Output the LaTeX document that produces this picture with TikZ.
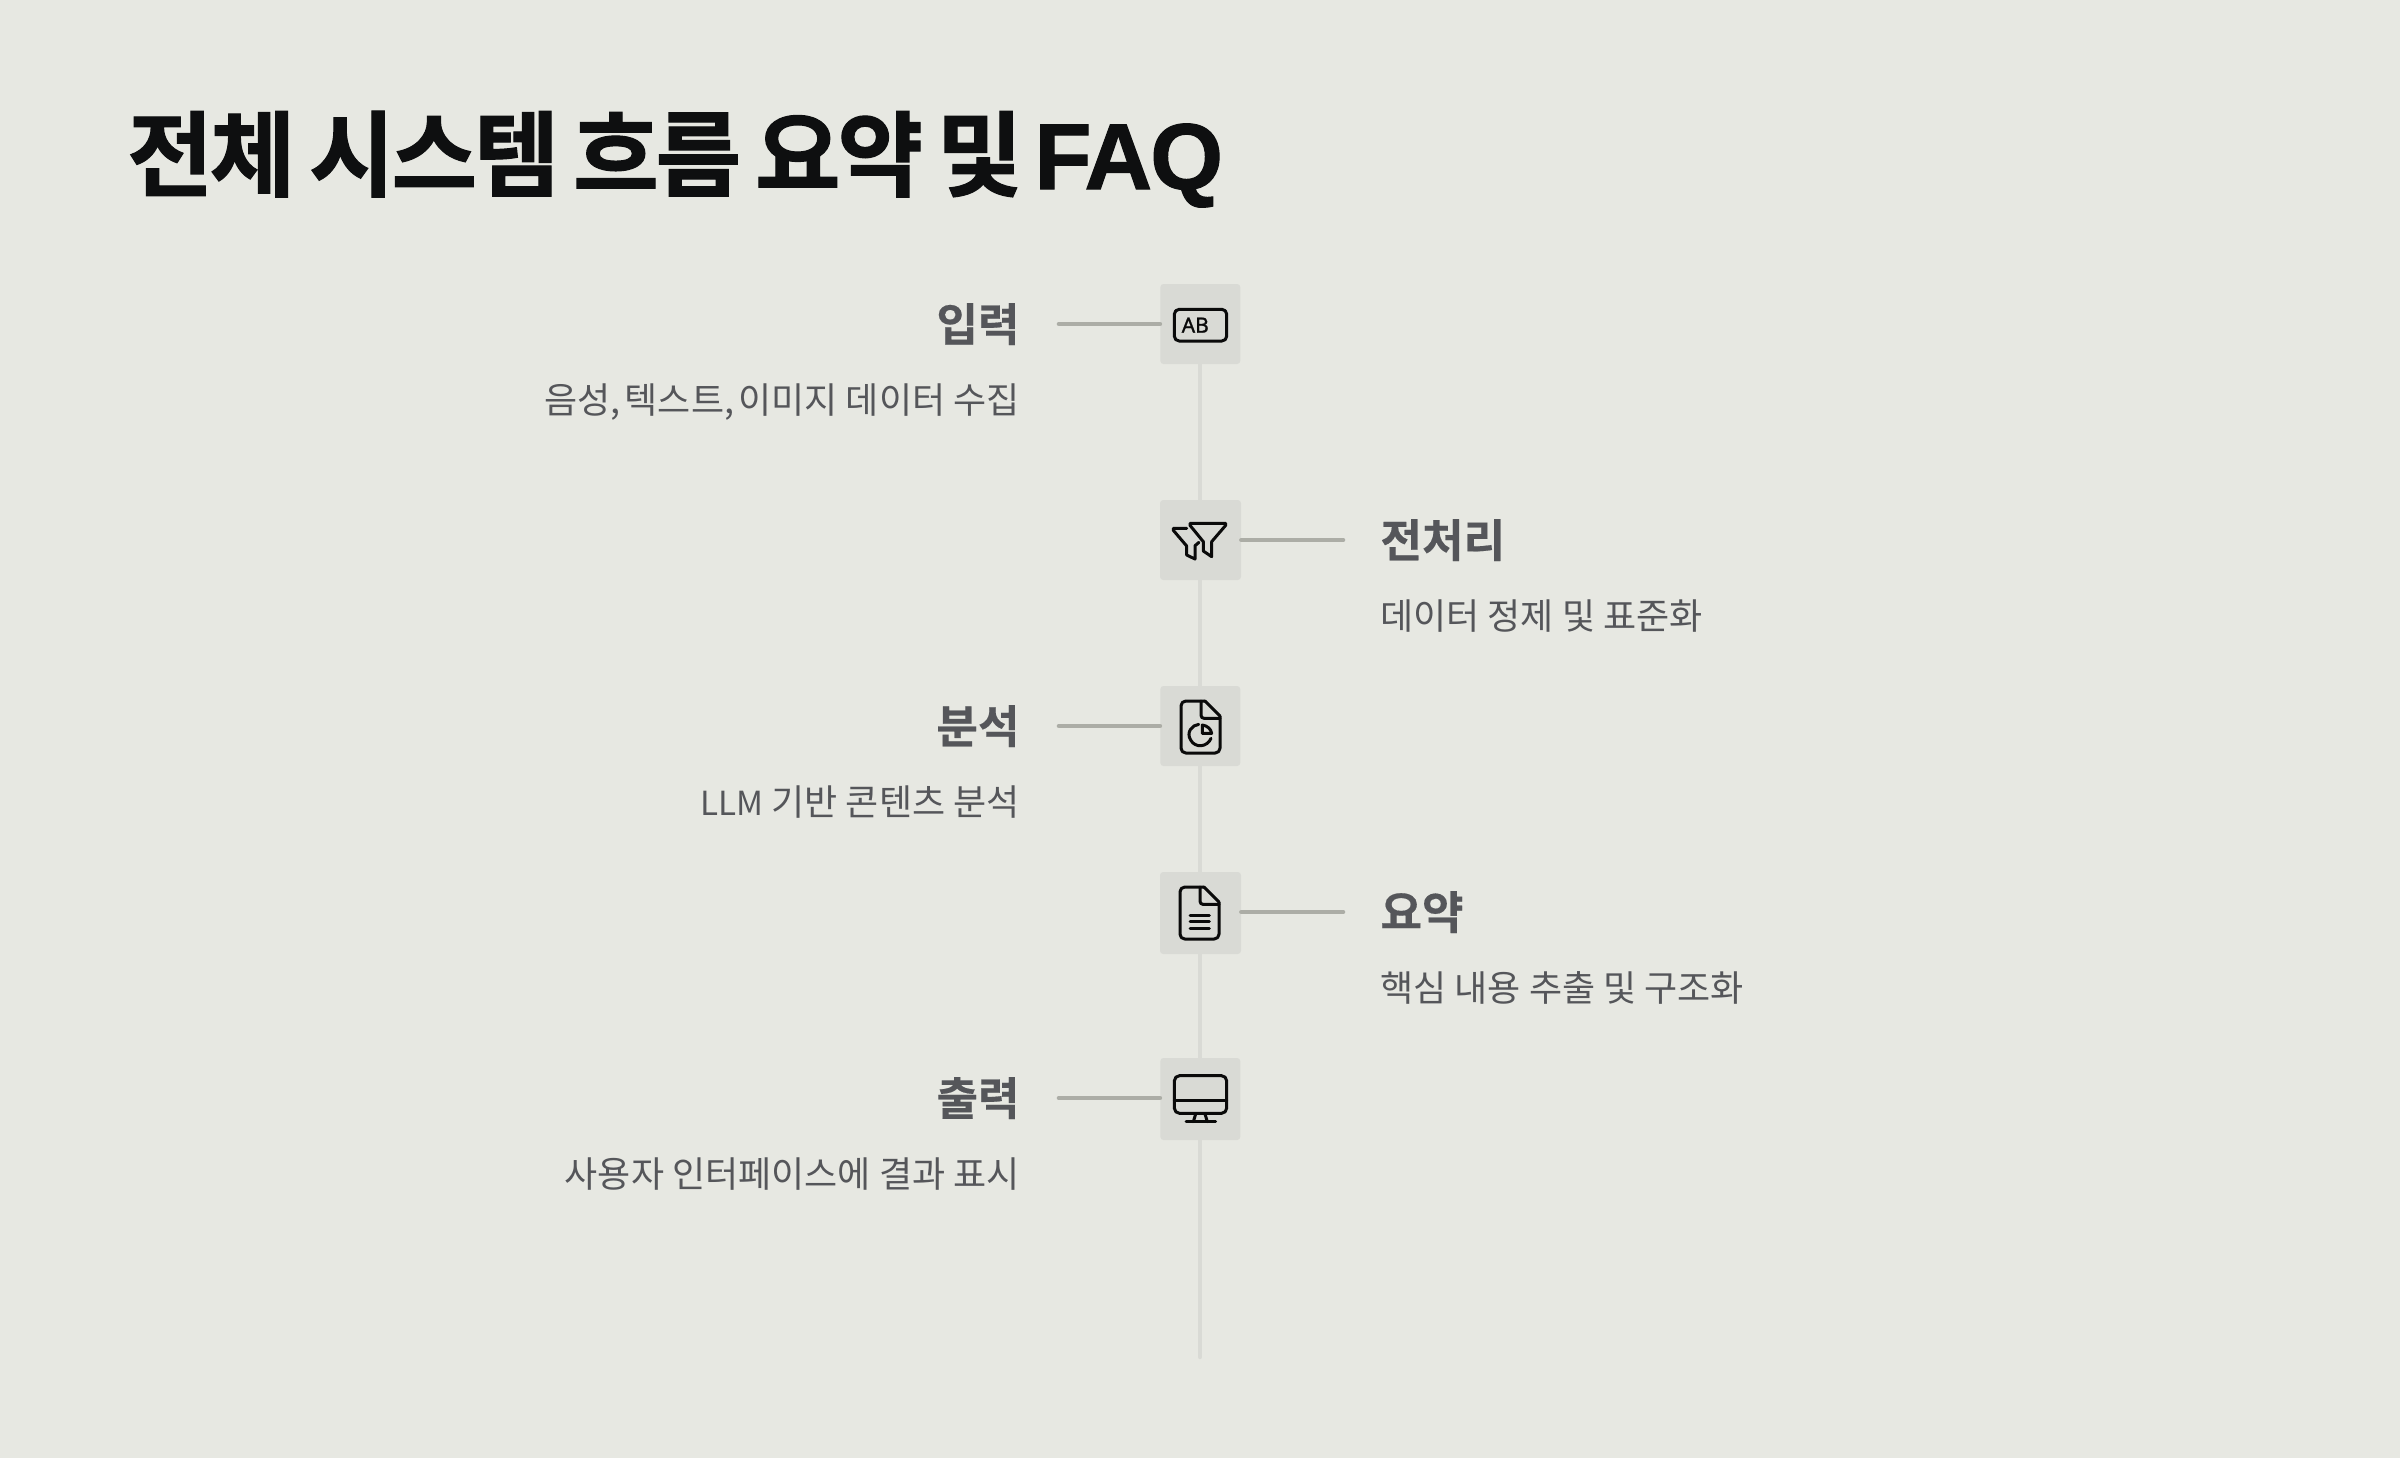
\documentclass[tikz,border=0pt]{standalone}
\usepackage{fontspec}
\setmainfont{Noto Sans CJK KR}
\newfontfamily\titlefont[LetterSpace=-3.5,WordSpace=0.78,BoldFont={Noto Sans CJK KR Bold},BoldFeatures={FakeBold=1.2}]{Noto Sans CJK KR}
\newfontfamily\titlelatin[LetterSpace=-2,BoldFeatures={FakeBold=1.2}]{Liberation Sans}
\newfontfamily\headfont[BoldFont={Noto Sans CJK KR Bold},BoldFeatures={FakeBold=0.4}]{Noto Sans CJK KR}
\newfontfamily\abfont[FakeBold=1.2]{Noto Sans}
\definecolor{bgc}{HTML}{E7E8E2}
\definecolor{boxc}{HTML}{D9DAD5}
\definecolor{linkc}{HTML}{ACADA6}
\definecolor{titlec}{HTML}{0E0F10}
\definecolor{textc}{HTML}{55565A}
\definecolor{iconc}{HTML}{0A0A0A}
\tikzset{
 iconbox/.style={fill=boxc,rounded corners=1.6pt,inner sep=0pt,minimum width=40pt,minimum height=40pt},
 spine/.style={draw=boxc,line width=2.2pt,line cap=round},
 link/.style={draw=linkc,line width=2.3pt,line cap=round},
 head/.style={inner sep=0pt,text=textc,font=\headfont\bfseries\fontsize{22.6}{22.6}\selectfont},
 sub/.style={inner sep=0pt,text=textc,font=\fontsize{18}{18}\selectfont},
 icon/.style={draw=iconc,line width=1.5pt,line join=round,line cap=round},
 zoomA/.style={shift={(1130,270)},x=0.16667pt,y=-0.16667pt},
 zoomB/.style={shift={(1130,670)},x=0.16667pt,y=-0.16667pt},
 zoomC/.style={shift={(1130,1040)},x=0.16667pt,y=-0.16667pt},
}
\begin{document}
\begin{tikzpicture}[x=0.5pt,y=-0.5pt]
\useasboundingbox (0,0) rectangle (2400,1458);
\fill[bgc] (0,0) rectangle (2400,1458);
\node[anchor=base west,inner sep=0pt,text=titlec,font=\titlefont\bfseries\fontsize{46.5}{46.5}\selectfont] (title) at (127,189) {전체 시스템 흐름 요약 및 {\titlelatin\bfseries\fontsize{46.8}{46.8}\selectfont\hspace{-1pt}FAQ}};
% icon boxes
\node[iconbox] (b1) at (1200.3,324) {};
\node[iconbox,minimum width=40.5pt] (b2) at (1200.5,540) {};
\node[iconbox] (b3) at (1200.3,726) {};
\node[iconbox,minimum width=40.5pt,minimum height=41pt] (b4) at (1200.5,913) {};
\node[iconbox,minimum height=41pt] (b5) at (1200.3,1099) {};
\coordinate (spineend) at (1200,1357);
% spine
\draw[spine] (b1.south -| 1200,0) -- (b2.north -| 1200,0);
\draw[spine] (b2.south -| 1200,0) -- (b3.north -| 1200,0);
\draw[spine] (b3.south -| 1200,0) -- (b4.north -| 1200,0);
\draw[spine] (b4.south -| 1200,0) -- (b5.north -| 1200,0);
\draw[spine] (b5.south -| 1200,0) -- (spineend);
% links
\coordinate (l1) at (1059,324);
\coordinate (l2) at (1343,540);
\coordinate (l3) at (1059,726);
\coordinate (l4) at (1343,912);
\coordinate (l5) at (1059,1098);
\draw[link] (l1) -- (l1 -| b1.west);
\draw[link] (l2) -- (l2 -| b2.east);
\draw[link] (l3) -- (l3 -| b3.west);
\draw[link] (l4) -- (l4 -| b4.east);
\draw[link] (l5) -- (l5 -| b5.west);
% text
\node[head,anchor=base east] (h1) at (1020,341) {입력};
\node[sub,anchor=base east] (s1) at (1020,413.5) {음성,\hspace{-1.9pt} 텍스트,\hspace{-1.9pt} 이미지 데이터 수집};
\node[head,anchor=base west] (h2) at (1380,557) {전처리};
\node[sub,anchor=base west] (s2) at (1380,629.5) {데이터 정제 및 표준화};
\node[head,anchor=base east] (h3) at (1020,743) {분석};
\node[sub,anchor=base east] (s3) at (1020,815.5) {{\fontsize{16.6}{16.6}\selectfont LLM} 기반 콘텐츠 분석};
\node[head,anchor=base west] (h4) at (1380,929) {요약};
\node[sub,anchor=base west] (s4) at (1380,1001.5) {핵심 내용 추출 및 구조화};
\node[head,anchor=base east] (h5) at (1020,1115) {출력};
\node[sub,anchor=base east] (s5) at (1020,1187.5) {사용자 인터페이스에 결과 표시};
% icon 1: AB
\begin{scope}[zoomA]
\draw[icon,rounded corners=2.4pt] (133,118) rectangle (290,213);
\node[inner sep=0pt,anchor=base west,text=iconc,font=\abfont\fontsize{10.5}{10.5}\selectfont] (ab) at (154,188) {AB};
% icon 2: funnels
\draw[icon] (180,760) -- (287,760) -- (287,766) -- (245,815) -- (245,860) -- (220,843) -- (220,815) -- (180,766) -- cycle;
\draw[icon] (170,775) -- (130,775) -- (130,781) -- (170,828) -- (170,855) -- (195,867) -- (195,827) -- (207,817);
\end{scope}
% icon 3: document with pie
\begin{scope}[zoomB]
\draw[icon,rounded corners=2.4pt] (225,93) -- (153,93) -- (153,249) -- (270,249) -- (270,138);
\draw[icon] (225,93) -- (270,138);
\draw[icon,rounded corners=1.5pt] (213,93) -- (213,145) -- (270,145);
\draw[icon] (243,205) .. controls (232,232) and (195,235) .. (182,210) .. controls (168,188) and (185,165) .. (206,163);
\draw[icon] (217,165) -- (217,190) -- (245,190) .. controls (243,177) and (232,167) .. (217,165) -- cycle;
% icon 4: document with lines
\draw[icon,rounded corners=2.4pt] (222,651) -- (150,651) -- (150,807) -- (267,807) -- (267,696);
\draw[icon] (222,651) -- (267,696);
\draw[icon,rounded corners=1.5pt] (210,651) -- (210,703) -- (267,703);
\draw[icon] (180,735) -- (238,735);
\draw[icon] (180,755) -- (238,755);
\draw[icon] (180,775) -- (238,775);
\end{scope}
% icon 5: monitor
\begin{scope}[zoomC]
\draw[icon,rounded corners=2.6pt] (133,107) rectangle (290,220);
\draw[icon] (133,182) -- (290,182);
\draw[icon] (197,222) -- (190,245);
\draw[icon] (225,222) -- (232,245);
\draw[icon] (168,245) -- (257,245);
\end{scope}
\end{tikzpicture}
\end{document}
